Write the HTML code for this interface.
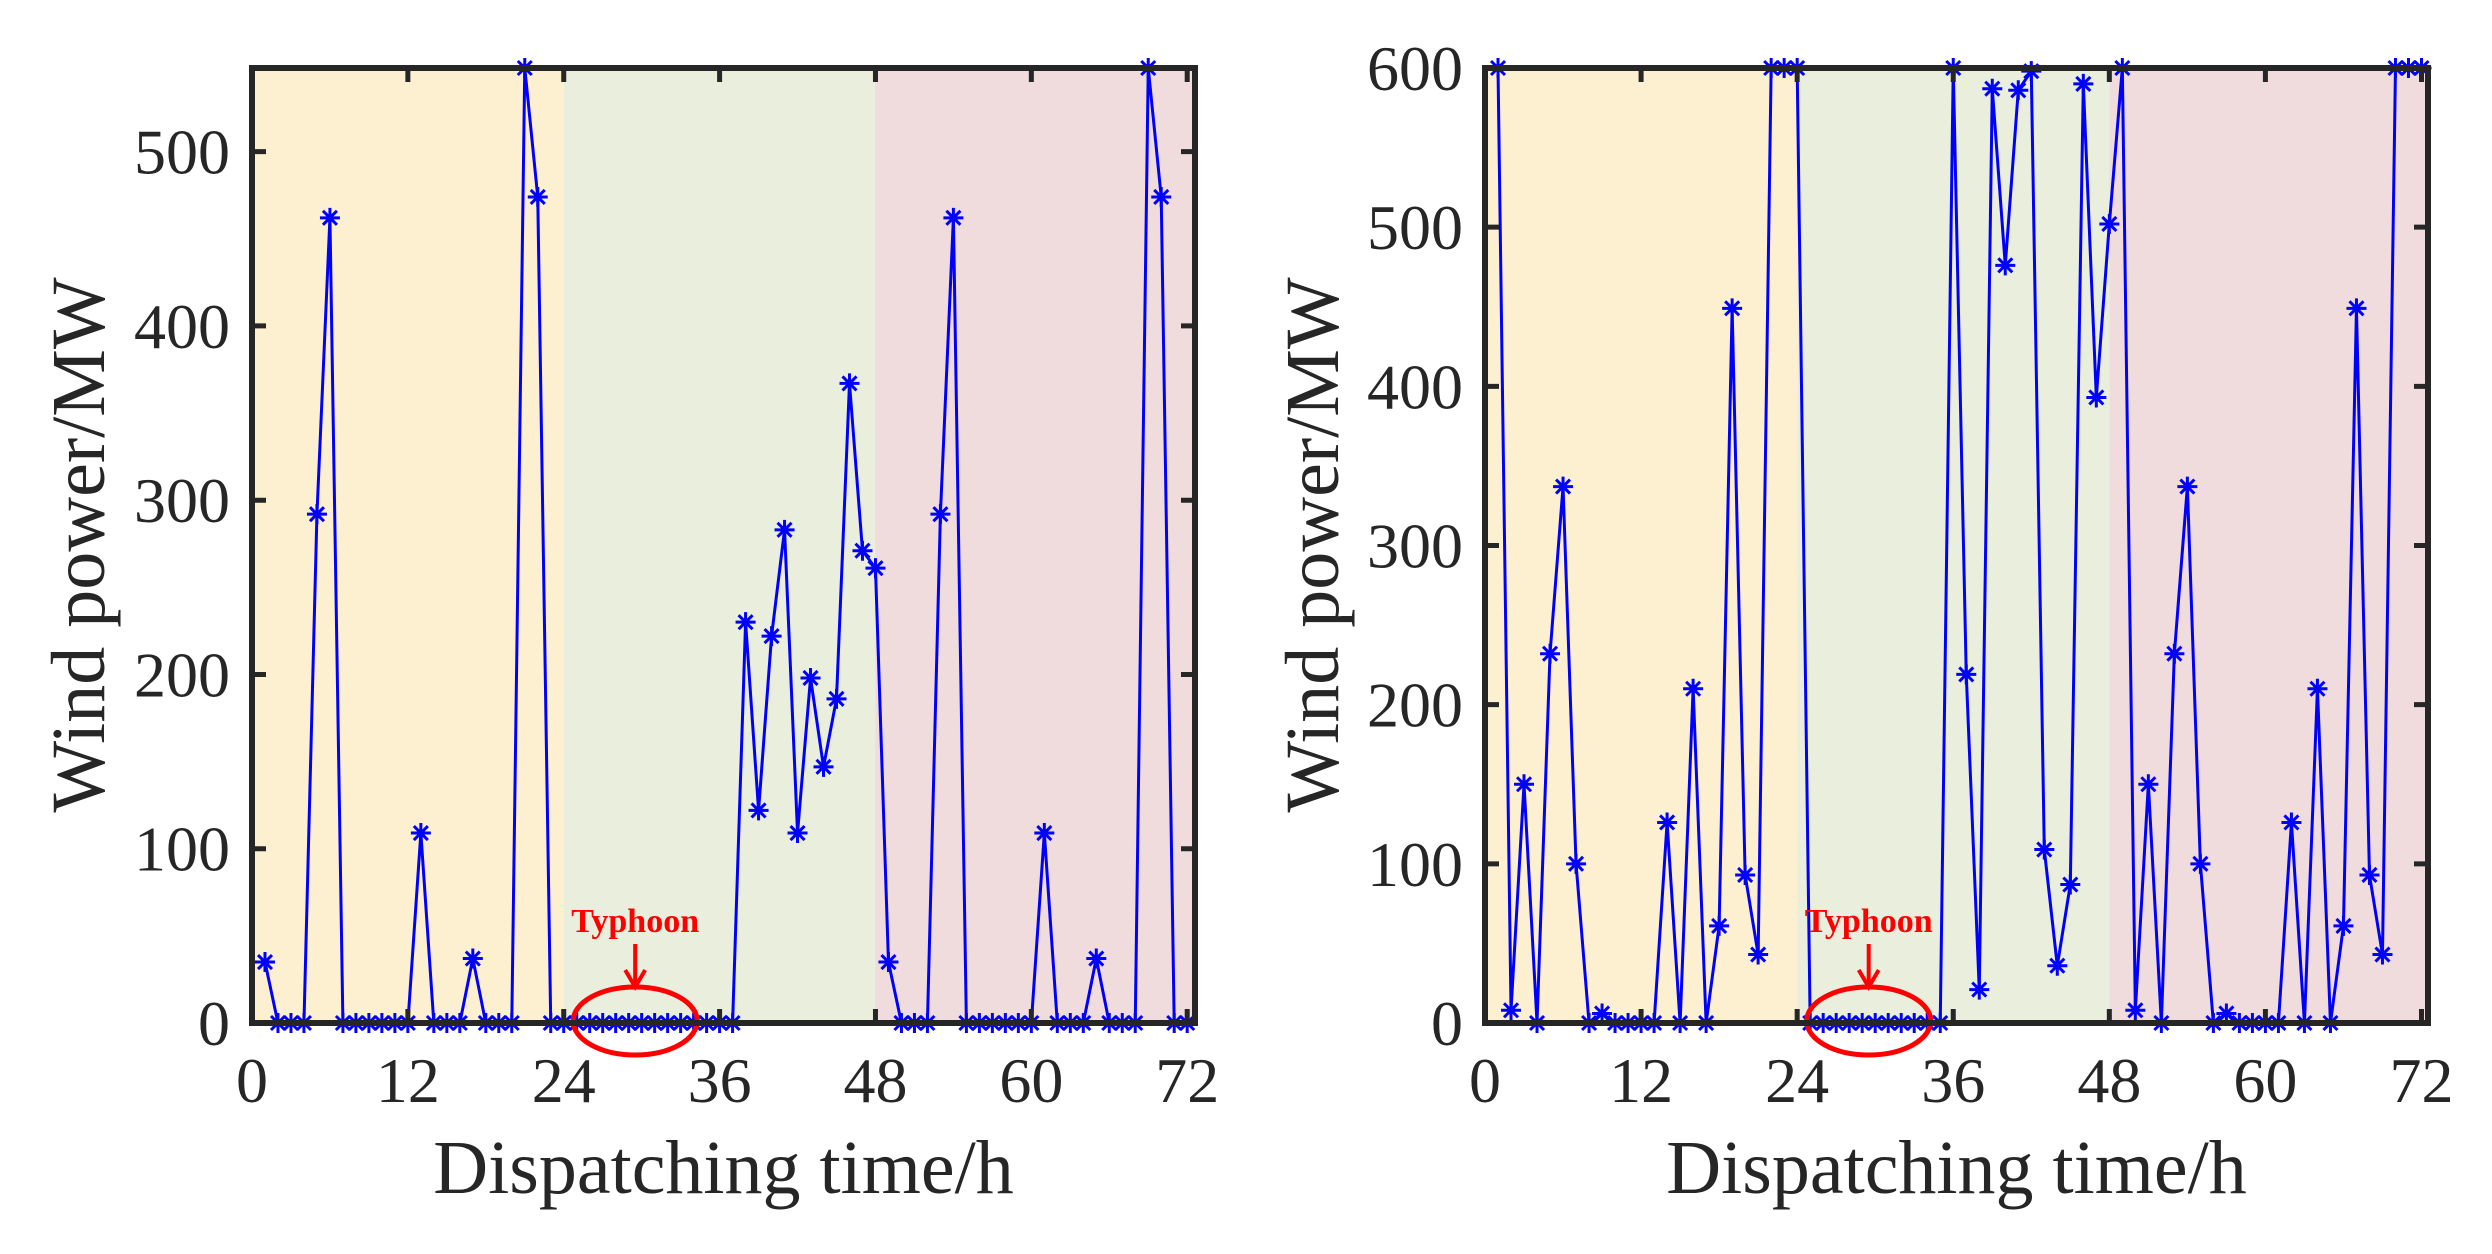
<!DOCTYPE html>
<html><head><meta charset="utf-8"><style>
html,body{margin:0;padding:0;background:#fff;}
svg{display:block;font-family:"Liberation Serif",serif;}
</style></head><body>
<svg id="chart" width="2492" height="1254" viewBox="0 0 2492 1254" xmlns="http://www.w3.org/2000/svg"></svg>
<script>
const hours = Array.from({length:72},(_,i)=>i+1);
const leftValues = [35,0,0,0,292,462,0,0,0,0,0,0,109,0,0,0,37,0,0,0,548,474,0,0,
0,0,0,0,0,0,0,0,0,0,0,0,0,230,122,222,283,109,198,147,186,367,271,261,
35,0,0,0,292,462,0,0,0,0,0,0,109,0,0,0,37,0,0,0,548,474,0,0];
const rightValues = [600,8,150,0,232,337,100,0,6,0,0,0,0,126,0,210,0,61,449,93,43,600,600,600,
0,0,0,0,0,0,0,0,0,0,0,600,219,21,587,476,586,598,109,36,87,590,393,502,
600,8,150,0,232,337,100,0,6,0,0,0,0,126,0,210,0,61,449,93,43,600,600,600];
const xTicks = [0,12,24,36,48,60,72];
const leftYTicks = [0,100,200,300,400,500];
const rightYTicks = [0,100,200,300,400,500,600];
const periods = [[0,24,'#fdf0d0','period-day1'],[24,48,'#eaeedd','period-day2'],[48,80,'#f0dcdc','period-day3']];

const NS='http://www.w3.org/2000/svg';
const svg=document.getElementById('chart');
function mk(tag,attrs,parent){const e=document.createElementNS(NS,tag);for(const k in attrs)e.setAttribute(k,attrs[k]);(parent||svg).appendChild(e);return e;}

function panel(name,x0,x1,xmax,ymax,values,yTicks,ylabX){
  const top=68,bot=1023;
  const g=mk('g',{});
  
  
  const sx=v=>x0+(x1-x0)*v/xmax;
  const sy=v=>bot-(bot-top)*v/ymax;
  periods.forEach(p=>{
    const a=sx(p[0]),b=Math.min(x1,sx(p[1]));
    const r=mk('rect',{x:a,y:top,width:b-a,height:bot-top,fill:p[2]},g);
    
    
  });
  const pts=hours.map((h,i)=>sx(h)+','+sy(values[i])).join(' ');
  const line=mk('polyline',{points:pts,fill:'none',stroke:'#0000ff','stroke-width':3},g);
  
  
  hours.forEach((h,i)=>{
    const cx=sx(h),cy=sy(values[i]),r=10;
    const m=mk('path',{d:`M${cx-r},${cy}H${cx+r}M${cx},${cy-r}V${cy+r}M${cx-r*0.7},${cy-r*0.7}L${cx+r*0.7},${cy+r*0.7}M${cx-r*0.7},${cy+r*0.7}L${cx+r*0.7},${cy-r*0.7}`,stroke:'#0000ff','stroke-width':3,fill:'none'},g);
    
    
  });
  const cx=sx(29.5);
  const el=mk('ellipse',{cx:cx,cy:1021,rx:62,ry:34,fill:'none',stroke:'#ff0000','stroke-width':5},g);
  
  
  const ar=mk('path',{d:`M${cx},944V985M${cx-10},970L${cx},987L${cx+10},970`,stroke:'#ff0000','stroke-width':4,fill:'none'},g);
  
  
  const tt=mk('text',{x:cx,y:932,'text-anchor':'middle','font-size':34,'font-weight':'bold',fill:'#ff0000'},g);
  tt.textContent='Typhoon';
  
  
  xTicks.forEach(t=>{
    const x=sx(t);
    mk('path',{d:`M${x},${bot}V${bot-14}M${x},${top}V${top+14}`,stroke:'#262626','stroke-width':5},g);
    const lb=mk('text',{x:x,y:1102,'text-anchor':'middle','font-size':64,fill:'#262626'},g);
    lb.textContent=t;
    
    
  });
  yTicks.forEach(t=>{
    const y=sy(t);
    mk('path',{d:`M${x0},${y}H${x0+14}M${x1},${y}H${x1-14}`,stroke:'#262626','stroke-width':5},g);
    const lb=mk('text',{x:x0-22,y:y+22,'text-anchor':'end','font-size':64,fill:'#262626'},g);
    lb.textContent=t;
    
    
  });
  const box=mk('rect',{x:x0,y:top,width:x1-x0,height:bot-top,fill:'none',stroke:'#262626','stroke-width':6},g);
  
  
  const xl=mk('text',{x:(x0+x1)/2,y:1193,'text-anchor':'middle','font-size':76,fill:'#262626'},g);
  xl.textContent='Dispatching time/h';
  
  
  const yl=mk('text',{x:0,y:0,'text-anchor':'middle','font-size':76,fill:'#262626',transform:`translate(${ylabX+26},545) rotate(-90)`},g);
  yl.textContent='Wind power/MW';
  
  
}
panel('left-panel',252,1195,72.6,548,leftValues,leftYTicks,78);
panel('right-panel',1485,2428,72.5,600,rightValues,rightYTicks,1312);
</script>
</body></html>
